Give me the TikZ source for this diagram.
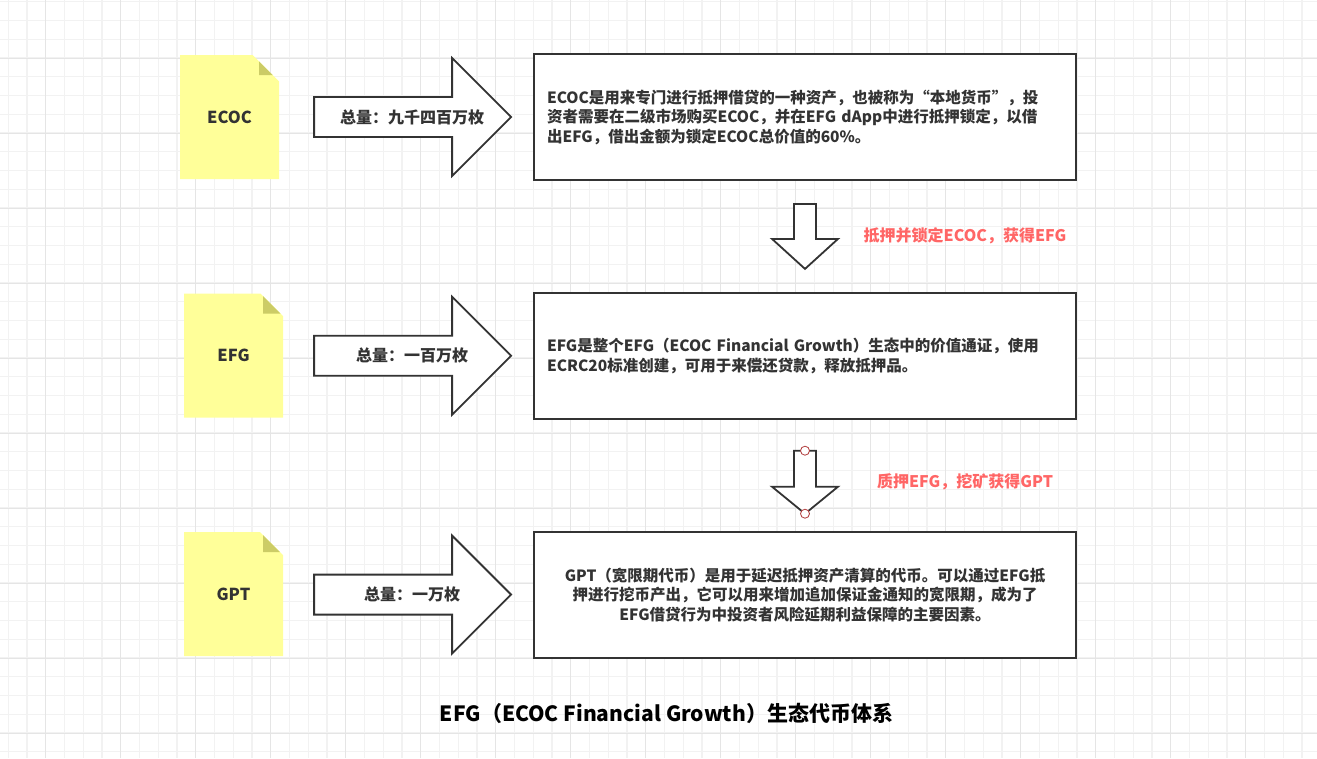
\documentclass[tikz,border=0pt]{standalone}
\usepackage{fontspec}
\setmainfont{Noto Sans CJK SC}
\usepackage{tikz}
\usetikzlibrary{calc, positioning, shapes.misc}
\usepackage{xcolor}
\definecolor{Ink}{HTML}{333333}
\definecolor{NoteYellow}{HTML}{FFFF99}
\definecolor{NoteFold}{HTML}{CCCC66}
\definecolor{FlowRed}{HTML}{FF6666}
\definecolor{HandleRed}{HTML}{B03A3A}
\definecolor{MinorGrid}{HTML}{F2F2F2}
\definecolor{MajorGrid}{HTML}{E5E5E5}
\tikzset{%
  note/.style={%
    chamfered rectangle,%
    chamfered rectangle corners=north east,%
    chamfered rectangle xsep=20pt,%
    chamfered rectangle ysep=20pt,%
    fill=NoteYellow,%
    minimum width=99pt,%
    minimum height=124pt,%
    inner sep=0pt,%
    text=Ink,%
    font={\bfseries\fontsize{16.5}{19}\selectfont},%
    path picture={%
      \fill[NoteFold] ($(path picture bounding box.north east)+(-20,0)$)
        -- ++(0,20) -- ++(20,0) -- cycle;%
    },%
  },
  infobox/.style={%
    rectangle,%
    draw=Ink,%
    line width=1.8pt,%
    fill=white,%
    minimum width=542pt,%
    minimum height=126pt,%
    text width=516pt,%
    inner xsep=13pt,%
    inner ysep=0pt,%
    align=left,%
    text=Ink,%
    font={\bfseries\fontsize{15.5}{19.5}\selectfont},%
  },
  blockarrow/.style={%
    draw=Ink,%
    line width=1.8pt,%
    fill=white,%
    line join=miter,%
  },
  qty/.style={%
    text=Ink,%
    font={\bfseries\fontsize{16}{19}\selectfont},%
  },
  flow/.style={%
    text=FlowRed,%
    font={\bfseries\fontsize{16}{19}\selectfont},%
  },
  handle/.style={%
    circle,%
    draw=HandleRed,%
    fill=white,%
    line width=0.8pt,%
    minimum size=9pt,%
    inner sep=0pt,%
  },
  caption/.style={%
    text=black,%
    font={\bfseries\fontsize{21}{25}\selectfont},%
  },
}

\begin{document}
\begin{tikzpicture}[x=1pt, y=-1pt]
  \useasboundingbox (0,0) rectangle (1317,758);
  \fill[white] (0,0) rectangle (1317,758);
  % background grid
  \begin{scope}[shift={(8.2,1.7)}]
    \draw[MinorGrid, line width=1.2pt, step=18.75pt] (-8.2,-1.7) grid (1308.8,756.3);
  \end{scope}
  \begin{scope}[shift={(45.7,58.5)}]
    \draw[MajorGrid, line width=1.2pt, step=75pt] (-45.7,-58.5) grid (1271.3,699.5);
  \end{scope}

  \node[note] (ecoc) at (229.5,117) {ECOC};
  \node[note] (efg) at (233.5,355.5) {EFG};
  \node[note] (gpt) at (233.5,594) {GPT};

  \node[infobox] (ecocinfo) at (805,117) {ECOC是用来专门进行抵押借贷的一种资产，也被称为“本地货币”，投\\资者需要在二级市场购买ECOC，并在EFG dApp中进行抵押锁定，以借\\出EFG，借出金额为锁定ECOC总价值的60\%。};
  \node[infobox, below = 111pt of ecocinfo] (efginfo) {EFG是整个EFG（ECOC Financial Growth）生态中的价值通证，使用\\ECRC20标准创建，可用于来偿还贷款，释放抵押品。};
  \node[infobox, below = 111pt of efginfo, align=center] (gptinfo) {GPT（宽限期代币）是用于延迟抵押资产清算的代币。可以通过EFG抵\\押进行挖币产出，它可以用来增加追加保证金通知的宽限期，成为了\\EFG借贷行为中投资者风险延期利益保障的主要因素。};

  % supply arrows
  \draw[blockarrow] ($(ecocinfo.west)+(-219,-20)$) -- ++(138,0) -- ++(0,-39) -- ++(59,59) -- ++(-59,59) -- ++(0,-39) -- ++(-138,0) -- cycle;
  \draw[blockarrow] ($(efginfo.west)+(-219,-20)$) -- ++(138,0) -- ++(0,-39) -- ++(59,59) -- ++(-59,59) -- ++(0,-39) -- ++(-138,0) -- cycle;
  \draw[blockarrow] ($(gptinfo.west)+(-219,-20)$) -- ++(138,0) -- ++(0,-39) -- ++(59,59) -- ++(-59,59) -- ++(0,-39) -- ++(-138,0) -- cycle;
  \node[qty] (ecocqty) at ($(ecocinfo.west)+(-121,0)$) {总量：九千四百万枚};
  \node[qty] (efgqty) at ($(efginfo.west)+(-121,0)$) {总量：一百万枚};
  \node[qty] (gptqty) at ($(gptinfo.west)+(-121,0)$) {总量：一万枚};

  % flow arrows
  \draw[blockarrow] ($(ecocinfo.south)+(-11,23)$) -- ++(22,0) -- ++(0,35) -- ++(22,0) -- ++(-33,30) -- ++(-33,-30) -- ++(22,0) -- cycle;
  \draw[blockarrow] ($(efginfo.south)+(-11,31)$) -- ++(22,0) -- ++(0,36) -- ++(22,0) -- ++(-33,27) -- ++(-33,-27) -- ++(22,0) -- cycle;
  \node[handle] (top) at ($(efginfo.south)+(0,31)$) {};
  \node[handle] (tip) at ($(efginfo.south)+(0,94)$) {};
  \node[flow] (lock) at (965,236) {抵押并锁定ECOC，获得EFG};
  \node[flow] (stake) at (965,482) {质押EFG，挖矿获得GPT};

  \node[caption] (title) at (666.5,713) {EFG（ECOC Financial Growth）生态代币体系};

\end{tikzpicture}
\end{document}
